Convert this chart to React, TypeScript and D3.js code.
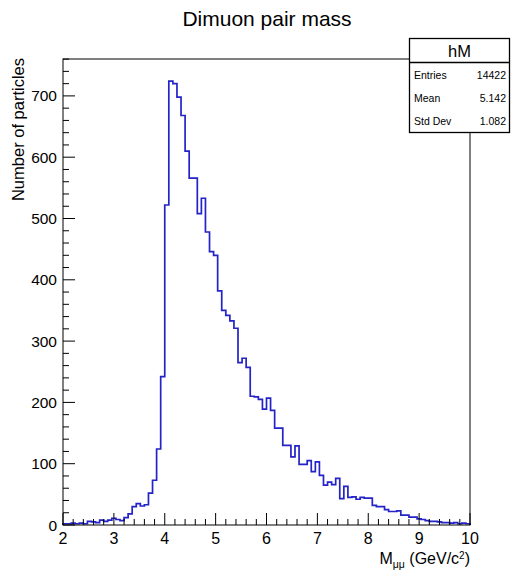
import React from "react";
import * as d3 from "d3";

const title = "Dimuon pair mass";
const xMin = 2;
const xMax = 10;
const counts = [
  2, 2, 3, 2, 3, 2, 6, 5, 4, 8,
  6, 8, 11, 9, 7, 12, 18, 30, 35, 31,
  33, 52, 73, 124, 242, 522, 724, 720, 698, 668,
  610, 566, 566, 508, 533, 478, 446, 440, 382, 350,
  342, 333, 321, 265, 272, 257, 210, 209, 205, 189,
  207, 187, 158, 158, 130, 130, 111, 129, 99, 99,
  105, 87, 103, 81, 65, 70, 66, 76, 43, 63,
  45, 46, 42, 45, 44, 44, 32, 30, 30, 25,
  22, 22, 23, 16, 16, 13, 13, 10, 9, 7,
  6, 6, 5, 4, 4, 3, 4, 2, 3, 2,
];
const xTickLabels = ["2", "3", "4", "5", "6", "7", "8", "9", "10"];
const yTickLabels = ["0", "100", "200", "300", "400", "500", "600", "700"];
const statName = "hM";
const statLabels = ["Entries", "Mean", "Std Dev"];
const statValues = ["14422", "5.142", "1.082"];

const FONT = "'Liberation Sans', Arial, Helvetica, sans-serif";

export default function App() {
  const L = 63, R = 470, T = 59, B = 525;
  const yMax = d3.max(counts)! * 1.05;
  const x = d3.scaleLinear().domain([xMin, xMax]).range([L, R]);
  const y = d3.scaleLinear().domain([0, yMax]).range([B, T]);
  const n = counts.length;
  const bw = (xMax - xMin) / n;

  const pts: [number, number][] = [[xMin, 0]];
  counts.forEach((c, i) => pts.push([xMin + i * bw, c]));
  pts.push([xMax, counts[n - 1]]);
  pts.push([xMax, 0]);
  const line = d3
    .line<[number, number]>()
    .x((d) => x(d[0]))
    .y((d) => y(d[1]))
    .curve(d3.curveStepAfter);

  const xMinor = d3.range(0, 41).map((k) => xMin + k * 0.2);
  const yMinor = d3.range(0, yMax, 20);

  return (
    <svg
      width={512}
      height={570}
      style={{ position: "absolute", left: 0, top: 0, background: "#fff" }}
      fontFamily={FONT}
    >
      <rect x={0} y={0} width={512} height={570} fill="#fff" />
      <text x={267} y={26} fontSize={21} textAnchor="middle" fill="#000">
        {title}
      </text>

      {/* histogram */}
      <path d={line(pts)!} fill="none" stroke="#2323c8" strokeWidth={1.7} />

      {/* frame */}
      <rect x={L} y={T} width={R - L} height={B - T} fill="none" stroke="#000" strokeWidth={1} />

      {/* x ticks */}
      {xMinor.map((v, k) => (
        <line
          key={"xm" + k}
          x1={x(v)}
          x2={x(v)}
          y1={B}
          y2={B - (k % 5 === 0 ? 12 : 6)}
          stroke="#000"
          strokeWidth={1}
        />
      ))}
      {xTickLabels.map((t) => (
        <text key={"xl" + t} x={x(+t)} y={544} fontSize={16} textAnchor="middle" fill="#000">
          {t}
        </text>
      ))}

      {/* y ticks */}
      {yMinor.map((v, k) => (
        <line
          key={"ym" + k}
          x1={L}
          x2={L + (k % 5 === 0 ? 12 : 6)}
          y1={y(v)}
          y2={y(v)}
          stroke="#000"
          strokeWidth={1}
        />
      ))}
      {yTickLabels.map((t) => (
        <text key={"yl" + t} x={57} y={y(+t)} dy="0.36em" fontSize={15.5} textAnchor="end" fill="#000">
          {t}
        </text>
      ))}

      {/* axis titles */}
      <text x={R} y={564} fontSize={16} textAnchor="end" fill="#000">
        M
        <tspan fontSize={10.5} dy={4}>μμ</tspan>
        <tspan dy={-4}> (GeV/c</tspan>
        <tspan fontSize={10} dy={-5}>2</tspan>
        <tspan dy={5}>)</tspan>
      </text>
      <text
        transform={`translate(24,${T - 1}) rotate(-90)`}
        fontSize={16.5}
        textAnchor="end"
        fill="#000"
      >
        Number of particles
      </text>

      {/* stats box */}
      <rect x={409.5} y={38.5} width={100} height={94} fill="#fff" stroke="#000" strokeWidth={1.3} />
      <line x1={409.5} x2={509.5} y1={62.5} y2={62.5} stroke="#000" strokeWidth={1.3} />
      <text x={459.5} y={57} fontSize={16.5} textAnchor="middle" fill="#000">
        {statName}
      </text>
      {statLabels.map((s, k) => (
        <g key={s}>
          <text x={414} y={78.5 + k * 23.3} fontSize={10.5} fill="#000">
            {s}
          </text>
          <text x={506} y={78.5 + k * 23.3} fontSize={10.5} textAnchor="end" fill="#000">
            {statValues[k]}
          </text>
        </g>
      ))}
    </svg>
  );
}
